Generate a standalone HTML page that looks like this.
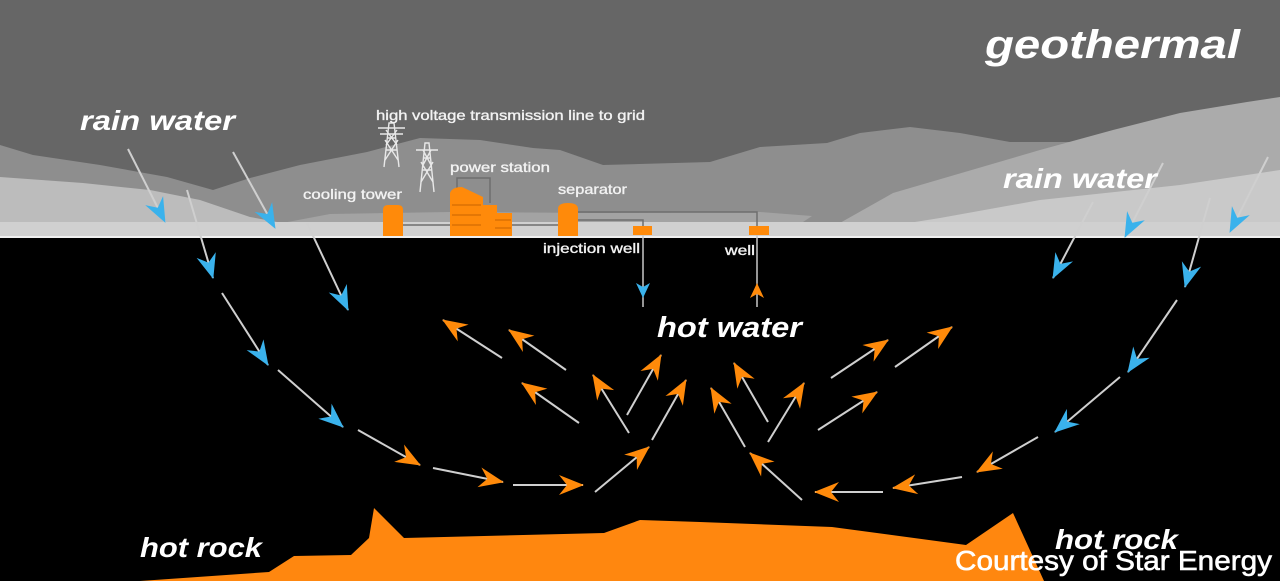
<!DOCTYPE html>
<html><head><meta charset="utf-8"><style>
html,body{margin:0;padding:0;background:#000;}
svg{display:block;}
.big{font-family:"Liberation Sans",Arial,sans-serif;font-weight:bold;font-style:italic;fill:#fff;}
.sm{font-family:"Liberation Sans",Arial,sans-serif;font-size:14px;fill:#f2f2f2;stroke:#f2f2f2;stroke-width:0.35;}
</style></head><body>
<svg width="1280" height="581" viewBox="0 0 1280 581" xmlns="http://www.w3.org/2000/svg">
<defs>
<marker id="bh" markerUnits="userSpaceOnUse" markerWidth="28" markerHeight="24" viewBox="-26 -12 28 24" refX="0" refY="0" orient="auto">
<path d="M1,0 L-24,-10 L-16,0 L-24,10 Z" fill="#3ab2ec"/></marker>
<marker id="oh" markerUnits="userSpaceOnUse" markerWidth="28" markerHeight="24" viewBox="-26 -12 28 24" refX="0" refY="0" orient="auto">
<path d="M1,0 L-24,-10 L-16,0 L-24,10 Z" fill="#ff8a0a"/></marker>
</defs>
<rect width="1280" height="581" fill="#000"/>
<rect width="1280" height="238" fill="#666"/>
<!-- hills -->
<path fill="#8e8e8e" d="M0,145 L33,155 L100,165 L167,177 L213,190 L250,178 L300,165 L367,152 L420,138 L480,140 L533,148 L560,150 L603,165 L710,162 L760,147 L827,143 L860,133 L910,127 L960,133 L1010,142 L1063,142 L1280,142 L1280,238 L0,238 Z"/>
<path fill="#ababab" d="M815,237 L893,193 L1040,150 L1113,130 L1180,113 L1247,102 L1280,97 L1280,238 Z"/>
<path fill="#bcbcbc" d="M0,177 L83,183 L150,190 L200,200 L250,217 L277,222 L0,222 Z"/>
<path fill="#a3a3a3" d="M277,224 L330,214 L450,212 L600,213 L760,212 L812,216 L800,224 Z"/>
<path fill="#c9c9c9" d="M827,236 L940,218 L1040,200 L1180,185 L1280,170 L1280,238 Z"/>
<rect x="0" y="222" width="1280" height="14" fill="#d0d0d0"/>
<rect x="0" y="236" width="1280" height="2" fill="#efefef"/>

<!-- towers -->
<g stroke="#e8e8e8" stroke-width="1.4" fill="none">
<path d="M384,167 L389,123 L394,123 L399,167 M386,150 L397,150 M387,138 L396,138 M385,160 L398,140 M398,160 L385,140 M378,128 L405,128 M380,134 L403,134 M386,145 L397,130 M397,145 L386,130"/>
<path d="M420,192 L425,143 L429,143 L434,192 M422,170 L432,170 M423,158 L431,158 M421,182 L433,162 M433,182 L421,162 M416,150 L438,150 M423,165 L431,150 M431,165 L423,150"/>
</g>

<!-- pipes -->
<g stroke="#6e6e6e" stroke-width="1.5" fill="none">
<path d="M578,212 L757,212 L757,226"/>
<path d="M578,220 L643,220 L643,226"/>
<path d="M403,225 L452,225"/>
<path d="M512,225 L558,225"/>
<path d="M457,190 L457,178 L490,178 L490,203"/>
</g>

<!-- orange structures -->
<g fill="#ff8a0a">
<path d="M383,236 L383,210 Q383,205 388,205 L398,205 Q403,205 403,210 L403,236 Z"/>
<path d="M450,236 L450,193 Q452,187 462,187 L483,197 L483,236 Z"/>
<rect x="483" y="205" width="14" height="31"/>
<rect x="493" y="213" width="19" height="23"/>
<path d="M558,236 L558,209 Q558,203 568,203 Q578,203 578,209 L578,236 Z"/>
<rect x="633" y="226" width="19" height="9"/>
<rect x="749" y="226" width="20" height="9"/>
</g>
<g stroke="#c86400" stroke-width="1">
<path d="M452,205 L481,205 M452,215 L481,215 M452,225 L481,225 M495,220 L511,220 M495,228 L511,228"/>
</g>

<!-- wells -->
<g stroke="#c8c8c8" stroke-width="1.5">
<line x1="643" y1="235" x2="643" y2="307"/>
<line x1="757" y1="235" x2="757" y2="307"/>
</g>
<path d="M643,298 L636,283 L643,287 L650,283 Z" fill="#3ab2ec"/>
<path d="M757,283 L750,298 L757,294 L764,298 Z" fill="#ff8a0a"/>

<!-- hot rock -->
<path fill="#ff870f" d="M140,581 L269,572 L294,556 L351,555 L369,538 L374,508 L404,538 L604,533 L640,520 L700,522 L832,527 L966,545 L1013,513 L1044,581 Z"/>

<!-- arrows -->
<g stroke="#cfcfcf" stroke-width="2" fill="none">
<line x1="128" y1="149" x2="165" y2="222" marker-end="url(#bh)"/>
<line x1="233" y1="152" x2="275" y2="228" marker-end="url(#bh)"/>
<line x1="187" y1="190" x2="213" y2="278" marker-end="url(#bh)"/>
<line x1="307" y1="223" x2="348" y2="310" marker-end="url(#bh)"/>
<line x1="222" y1="293" x2="268" y2="365" marker-end="url(#bh)"/>
<line x1="278" y1="370" x2="343" y2="427" marker-end="url(#bh)"/>
<line x1="1120" y1="377" x2="1055" y2="432" marker-end="url(#bh)"/>
<line x1="1177" y1="300" x2="1128" y2="372" marker-end="url(#bh)"/>
<line x1="1210" y1="198" x2="1185" y2="287" marker-end="url(#bh)"/>
<line x1="1093" y1="202" x2="1053" y2="278" marker-end="url(#bh)"/>
<line x1="1163" y1="163" x2="1125" y2="237" marker-end="url(#bh)"/>
<line x1="1268" y1="157" x2="1230" y2="232" marker-end="url(#bh)"/>

<line x1="358" y1="430" x2="420" y2="465" marker-end="url(#oh)"/>
<line x1="433" y1="468" x2="503" y2="482" marker-end="url(#oh)"/>
<line x1="513" y1="485" x2="583" y2="485" marker-end="url(#oh)"/>
<line x1="595" y1="492" x2="649" y2="447" marker-end="url(#oh)"/>
<line x1="652" y1="440" x2="686" y2="380" marker-end="url(#oh)"/>
<line x1="627" y1="415" x2="661" y2="355" marker-end="url(#oh)"/>
<line x1="629" y1="433" x2="593" y2="375" marker-end="url(#oh)"/>
<line x1="579" y1="423" x2="522" y2="383" marker-end="url(#oh)"/>
<line x1="566" y1="370" x2="509" y2="330" marker-end="url(#oh)"/>
<line x1="502" y1="358" x2="443" y2="320" marker-end="url(#oh)"/>
<line x1="802" y1="500" x2="750" y2="453" marker-end="url(#oh)"/>
<line x1="745" y1="447" x2="711" y2="388" marker-end="url(#oh)"/>
<line x1="768" y1="422" x2="734" y2="363" marker-end="url(#oh)"/>
<line x1="768" y1="442" x2="804" y2="383" marker-end="url(#oh)"/>
<line x1="818" y1="430" x2="877" y2="392" marker-end="url(#oh)"/>
<line x1="831" y1="378" x2="888" y2="340" marker-end="url(#oh)"/>
<line x1="895" y1="367" x2="952" y2="327" marker-end="url(#oh)"/>
<line x1="883" y1="492" x2="815" y2="492" marker-end="url(#oh)"/>
<line x1="962" y1="477" x2="893" y2="488" marker-end="url(#oh)"/>
<line x1="1038" y1="437" x2="977" y2="472" marker-end="url(#oh)"/>
</g>

<!-- labels -->
<text class="big" x="985" y="58" font-size="40" textLength="255" lengthAdjust="spacingAndGlyphs">geothermal</text>
<text class="big" x="80" y="130" font-size="28" textLength="155" lengthAdjust="spacingAndGlyphs">rain water</text>
<text class="big" x="1003" y="188" font-size="28" textLength="154" lengthAdjust="spacingAndGlyphs">rain water</text>
<text class="big" x="657" y="337" font-size="29" textLength="145" lengthAdjust="spacingAndGlyphs">hot water</text>
<text class="big" x="140" y="557" font-size="28" textLength="122" lengthAdjust="spacingAndGlyphs">hot rock</text>
<text class="big" x="1055" y="549" font-size="28" textLength="123" lengthAdjust="spacingAndGlyphs">hot rock</text>
<text x="955" y="570" font-family="Liberation Sans, Arial, sans-serif" font-size="28" fill="#fff" stroke="#fff" stroke-width="0.6" textLength="317" lengthAdjust="spacingAndGlyphs">Courtesy of Star Energy</text>

<text class="sm" x="376" y="120" textLength="269" lengthAdjust="spacingAndGlyphs">high voltage transmission line to grid</text>
<text class="sm" x="450" y="172" textLength="100" lengthAdjust="spacingAndGlyphs">power station</text>
<text class="sm" x="303" y="199" textLength="99" lengthAdjust="spacingAndGlyphs">cooling tower</text>
<text class="sm" x="558" y="194" textLength="69" lengthAdjust="spacingAndGlyphs">separator</text>
<text class="sm" x="543" y="253" textLength="97" lengthAdjust="spacingAndGlyphs">injection well</text>
<text class="sm" x="725" y="255" textLength="30" lengthAdjust="spacingAndGlyphs">well</text>
</svg>
</body></html>
